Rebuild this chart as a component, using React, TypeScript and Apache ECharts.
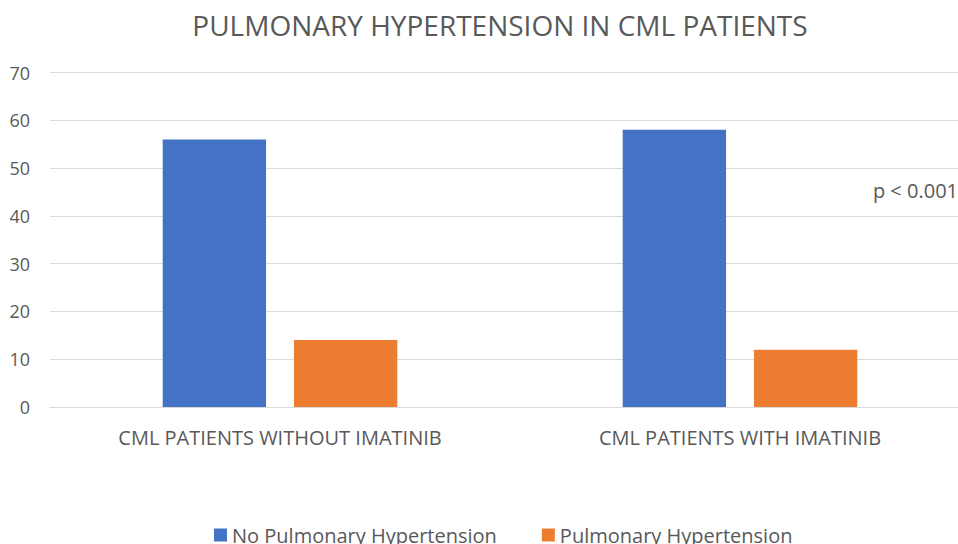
import React, { useEffect, useRef } from "react";
import * as echarts from "echarts";

const categories = ["CML PATIENTS WITHOUT IMATINIB", "CML PATIENTS WITH IMATINIB"];
const noPH = [56, 58];
const withPH = [14, 12];
const seriesNames = ["No Pulmonary Hypertension", "Pulmonary Hypertension"];
const titleText = "PULMONARY HYPERTENSION IN CML PATIENTS";
const annotation = "p < 0.001";

const FONT = "'Open Sans', 'Noto Sans', sans-serif";

export default function App() {
  const ref = useRef<HTMLDivElement>(null);
  useEffect(() => {
    if (!ref.current) return;
    const chart = echarts.init(ref.current, null, { renderer: "svg" });
    chart.setOption({
      animation: false,
      backgroundColor: "#ffffff",
      title: {
        text: titleText,
        left: 495,
        textAlign: "center",
        top: 6,
        textStyle: { fontFamily: FONT, fontSize: 28, fontWeight: "normal", color: "#595959" },
      },
      legend: {
        top: 520,
        left: 209,
        itemWidth: 13,
        itemHeight: 13,
        itemGap: 45,
        icon: "rect",
        textStyle: { fontFamily: FONT, fontSize: 20, color: "#595959" },
        data: seriesNames,
      },
      grid: { left: 50, right: 0, top: 72.5, bottom: 137, containLabel: false },
      xAxis: {
        type: "category",
        data: categories,
        axisLine: { lineStyle: { color: "#D9D9D9" } },
        axisTick: { show: false },
        axisLabel: { fontFamily: FONT, fontSize: 20, color: "#595959", margin: 20 },
      },
      yAxis: {
        type: "value",
        min: 0,
        max: 70,
        interval: 10,
        axisLine: { show: false },
        axisTick: { show: false },
        splitLine: { lineStyle: { color: "#D9D9D9", width: 1 } },
        axisLabel: { fontFamily: FONT, fontSize: 18, color: "#595959", margin: 20 },
      },
      graphic: [
        {
          type: "text",
          right: 12,
          top: 180,
          style: { text: annotation, fontFamily: FONT, fontSize: 20, fill: "#595959" },
        },
      ],
      series: [
        {
          name: seriesNames[0],
          type: "bar",
          data: noPH,
          barGap: "27%",
          barCategoryGap: "49%",
          itemStyle: { color: "#4472C4" },
        },
        {
          name: seriesNames[1],
          type: "bar",
          data: withPH,
          itemStyle: { color: "#ED7D31" },
        },
      ],
    });
    return () => chart.dispose();
  }, []);
  return (
    <div style={{ position: "fixed", left: 0, top: 0, width: 958, height: 544, overflow: "hidden" }}>
      <div ref={ref} style={{ width: 970, height: 544 }} />
    </div>
  );
}
